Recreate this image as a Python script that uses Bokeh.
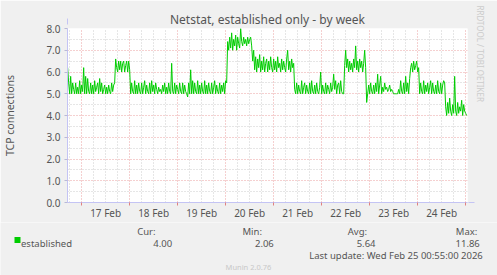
from bokeh.plotting import figure
from bokeh.layouts import column
from bokeh.models import FixedTicker, PrintfTickFormatter, Range1d, Title, Arrow, NormalHead
from bokeh.core.properties import value
from bokeh.embed import file_html
from bokeh.resources import INLINE

# ---------------- data ----------------
title_text = "Netstat, established only - by week"
y_axis_label = "TCP connections"
series_name = "established"
day_labels = ["17 Feb", "18 Feb", "19 Feb", "20 Feb", "21 Feb", "22 Feb", "23 Feb", "24 Feb"]
# hours relative to 17 Feb 00:00
view_start_hour = -7.08
view_end_hour = 192.92
sample_start_hour = -7.0
sample_step_hours = 0.5
connections = [
    # 16 Feb evening - 17 Feb afternoon
    6.2, 5.5, 5.0, 5.8, 5.0, 5.5, 5.2, 5.0, 5.5, 5.0,
    5.3, 5.0, 5.6, 5.0, 5.4, 5.1, 6.2, 5.0, 5.8, 5.0,
    5.7, 5.1, 5.0, 5.5, 5.0, 5.4, 5.0, 5.6, 5.1, 5.3,
    5.5, 5.0, 5.7, 5.1, 5.5, 5.0, 5.2, 5.4, 5.0, 5.3,
    5.0, 5.4, 5.1, 5.0, 5.5, 5.1, 5.4, 5.5,
    # 17 Feb evening
    6.6, 6.2, 6.0, 6.5, 6.1, 6.5, 6.0, 6.4, 6.5, 6.0, 6.3, 6.5, 6.0, 6.5, 6.1,
    # 18 Feb - 19 Feb
    5.0, 5.5, 5.1, 5.0, 5.6, 5.0, 5.4, 5.0, 5.5, 5.1,
    5.0, 5.5, 5.0, 5.3, 5.6, 5.0, 5.4, 5.1, 5.0, 5.5,
    5.0, 5.6, 5.1, 5.4, 5.0, 5.5, 5.2, 5.0, 5.3, 5.1,
    5.2, 5.0, 5.4, 5.1, 5.5, 5.0, 5.3, 5.0, 5.5, 5.1,
    5.0, 6.4, 5.1, 5.0, 5.5, 5.0, 5.4, 5.2, 5.0, 5.5,
    5.1, 5.0, 5.5, 5.0, 5.4, 5.1, 5.0, 4.85, 5.5, 5.0,
    6.1, 5.0, 5.6, 5.0, 5.5, 5.1, 5.0, 5.6, 5.0, 5.4,
    5.0, 5.5, 5.1, 5.0, 5.6, 5.0, 5.4, 5.0, 5.5, 5.1,
    5.0, 5.5, 5.0, 5.3, 5.6, 5.0, 5.4, 5.1, 5.0, 5.5,
    5.0, 5.4, 5.1, 5.5, 5.0, 5.6, 5.5,
    # 20 Feb morning
    7.4, 7.0, 7.6, 7.1, 7.8, 7.0, 7.5, 7.2, 7.7, 7.0,
    7.6, 7.3, 7.1, 8.0, 7.4, 7.2, 7.6, 7.3, 7.5, 7.2,
    7.6, 7.3, 7.5, 7.6, 7.2,
    # 20 Feb afternoon - 21 Feb morning
    6.5, 7.0, 6.1, 6.7, 6.0, 6.6, 6.2, 6.8, 6.0, 6.5,
    6.1, 6.7, 6.0, 6.4, 6.6, 6.0, 6.5, 6.1, 6.7, 6.2,
    6.0, 6.6, 6.1, 6.5, 6.0, 6.7, 6.2, 6.4, 6.0, 6.6,
    6.1, 6.5, 6.2, 6.0, 6.6, 7.0, 6.1, 6.5, 6.0, 6.6,
    6.2, 6.4,
    # 21 Feb - 22 Feb morning
    5.2, 5.0, 5.5, 5.0, 5.4, 5.1, 5.0, 5.6, 5.0, 5.3,
    5.5, 5.0, 5.4, 5.1, 5.0, 5.5, 5.0, 5.6, 5.1, 5.0,
    5.4, 5.0, 5.5, 5.1, 5.0, 5.3, 6.0, 5.0, 5.4, 5.1,
    5.0, 5.5, 5.0, 5.4, 5.2, 5.0, 5.5, 5.1, 5.3, 5.9,
    5.2, 5.6, 5.0, 5.4, 5.5, 5.0, 5.6, 5.1, 5.0, 5.0,
    # 22 Feb midday
    6.3, 7.0, 6.2, 6.6, 6.0, 6.5, 6.1, 6.4, 6.0, 6.6,
    6.2, 7.2, 6.1, 6.5, 6.0, 6.6, 6.2, 6.5, 6.0, 6.4,
    7.0, 6.2,
    # 22 Feb evening - 23 Feb
    4.6, 5.0, 5.4, 5.0, 5.5, 5.1, 5.0, 5.4, 5.0, 5.5,
    5.1, 5.9, 5.0, 5.4, 5.8, 5.0, 5.3, 5.1, 5.5, 5.2,
    5.3, 5.1, 5.2, 5.4, 5.1, 5.2, 5.1, 5.0, 5.0, 5.0,
    5.0, 5.0, 5.2, 5.0, 5.6, 5.1, 5.0, 5.5, 5.0, 5.8,
    5.1, 5.5, 5.0, 5.7,
    # 23 Feb evening
    6.2, 6.4, 6.0, 6.5, 6.1, 6.3, 6.5, 6.0, 6.2,
    # 24 Feb
    5.0, 5.5, 5.1, 5.0, 5.6, 5.0, 5.4, 5.1, 5.5, 5.0,
    5.3, 5.6, 5.0, 5.5, 5.1, 5.0, 5.4, 5.0, 5.6, 5.1,
    5.0, 5.5, 5.0, 5.4, 5.6, 5.5,
    # 24 Feb evening
    4.4, 4.0, 4.6, 4.1, 4.8, 4.2, 4.0, 4.5, 4.1, 5.8,
    4.2, 4.0, 4.6, 4.1, 4.4, 4.2, 4.7, 4.0, 4.5, 4.2,
    4.1, 4.0,
]
sample_hours = [sample_start_hour + sample_step_hours * i for i in range(len(connections))]
y_ticks = [0, 1, 2, 3, 4, 5, 6, 7, 8]
y_minor = [0.5, 1.5, 2.5, 3.5, 4.5, 5.5, 6.5, 7.5]
stat_headers = ["Cur:", "Min:", "Avg:", "Max:"]
stat_values = ["4.00", "2.06", "5.64", "11.86"]
last_update = "Last update: Wed Feb 25 00:55:00 2026"
side_text = "RRDTOOL / TOBI OETIKER"
footer_text = "Munin 2.0.76"

# ---------------- style ----------------
FONT = "Noto Sans"
TXT = "#555555"
BG = "#F0F0F0"
AXIS = "#c4c4f4"
MGRID = "#eaa0a0"
GRID = "#cccccc"
LINE = "#00CC00"

midnights = [24 * i for i in range(len(day_labels) + 1)]
noons = [24 * i + 12 for i in range(len(day_labels))]
quarter_days = [h for h in range(-6, 193, 6) if h % 24 != 0]

TOP_H = 222
FRAME_W, FRAME_H = 400, 175
p = figure(width=497, height=TOP_H, output_backend="svg", toolbar_location=None,
           x_range=Range1d(view_start_hour, view_end_hour), y_range=Range1d(0, 8),
           min_border_left=67, min_border_right=30, min_border_top=28,
           min_border_bottom=19, background_fill_color="white",
           border_fill_color=BG, outline_line_color=None)

# grids
p.xgrid.ticker = FixedTicker(ticks=midnights, minor_ticks=quarter_days)
p.xgrid.grid_line_color = MGRID
p.xgrid.grid_line_dash = "1 2"
p.xgrid.minor_grid_line_color = GRID
p.xgrid.minor_grid_line_dash = "1 2"
p.ygrid.ticker = FixedTicker(ticks=y_ticks, minor_ticks=y_minor)
p.ygrid.grid_line_color = MGRID
p.ygrid.grid_line_dash = "1 2"
p.ygrid.minor_grid_line_color = GRID
p.ygrid.minor_grid_line_dash = "1 2"

# x axis
xa = p.xaxis[0]
xa.ticker = FixedTicker(ticks=noons, minor_ticks=midnights)
xa.major_label_overrides = {n: lab for n, lab in zip(noons, day_labels)}
xa.major_tick_line_color = None
xa.major_tick_out = 0
xa.major_tick_in = 0
xa.minor_tick_out = 3
xa.minor_tick_in = 0
xa.minor_tick_line_color = "#e08080"
xa.axis_line_color = AXIS
xa.major_label_text_font = FONT
xa.major_label_text_font_size = "10px"
xa.major_label_text_color = TXT
xa.major_label_standoff = 0

# y axis
ya = p.yaxis[0]
ya.ticker = FixedTicker(ticks=y_ticks)
ya.formatter = PrintfTickFormatter(format="%.1f")
ya.major_tick_out = 3
ya.major_tick_in = 0
ya.major_tick_line_color = "#b8b8d8"
ya.minor_tick_line_color = None
ya.axis_line_color = AXIS
ya.major_label_text_font = FONT
ya.major_label_text_font_size = "10px"
ya.major_label_text_color = TXT
ya.major_label_standoff = 4
ya.axis_label = y_axis_label
ya.axis_label_text_font = FONT
ya.axis_label_text_font_size = "10.5px"
ya.axis_label_text_font_style = "normal"
ya.axis_label_text_color = TXT
ya.axis_label_standoff = 26

# title
p.title.text = title_text
p.title.align = "center"
p.title.offset = -19
p.title.text_font = FONT
p.title.text_font_size = "12px"
p.title.text_font_style = "normal"
p.title.text_color = TXT
p.title.standoff = 1

# side credit
p.add_layout(Title(text=side_text, align="left", offset=-23, standoff=14,
                   text_font=FONT, text_font_size="8px", text_font_style="normal",
                   text_color="#cccccc"), "right")

# data line
p.line(sample_hours, connections, line_color=LINE, line_width=1)

# axis arrow heads (placed in a side panel so they are not clipped to the frame)
y_per_px = (y_ticks[-1] - y_ticks[0]) / FRAME_H
x_per_px = (view_end_hour - view_start_hour) / FRAME_W
p.add_layout(Arrow(end=NormalHead(size=6, line_color=AXIS, fill_color=AXIS),
                   x_start=view_start_hour, y_start=y_ticks[-1],
                   x_end=view_start_hour, y_end=y_ticks[-1] + 10 * y_per_px,
                   line_color=AXIS), "left")
p.add_layout(Arrow(end=NormalHead(size=6, line_color=AXIS, fill_color=AXIS),
                   x_start=view_end_hour, y_start=y_ticks[0],
                   x_end=view_end_hour + 7 * x_per_px, y_end=y_ticks[0],
                   line_color=AXIS), "below")

# ---------------- legend strip ----------------
LEG_TOP = TOP_H
leg = figure(width=497, height=275 - TOP_H, output_backend="svg", toolbar_location=None,
             x_range=Range1d(0, 497), y_range=Range1d(275, LEG_TOP),
             x_axis_type=None, y_axis_type=None, min_border=0,
             min_border_left=0, min_border_right=0, min_border_top=0, min_border_bottom=0,
             background_fill_color=BG, border_fill_color=BG, outline_line_color=None)
leg.xgrid.visible = False
leg.ygrid.visible = False

for fig in (p, leg):
    try:
        fig.frame_align = False
    except Exception:
        pass

leg.quad(left=[14], right=[20], top=[236.5], bottom=[242.5], fill_color=LINE, line_color=None)

def txt(xs, ys, texts, align="left", size="9.5px", color=TXT):
    leg.text(x=xs, y=ys, text=texts, text_align=align, text_baseline="alphabetic",
             text_font=value(FONT), text_font_size=value(size), text_color=color)

txt([20.5], [243], [series_name])
txt([136.7, 242, 347.3, 455.3], [230.7] * 4, stat_headers)
txt([171.7, 273.3, 375, 479.3], [243] * 4, stat_values, align="right")
txt([482.3], [254.5], [last_update], align="right")
txt([248], [266], [footer_text], align="center", size="7.5px", color="#c8c8c8")

layout = column(p, leg, spacing=0)
open("out.html", "w").write(file_html(layout, INLINE))
